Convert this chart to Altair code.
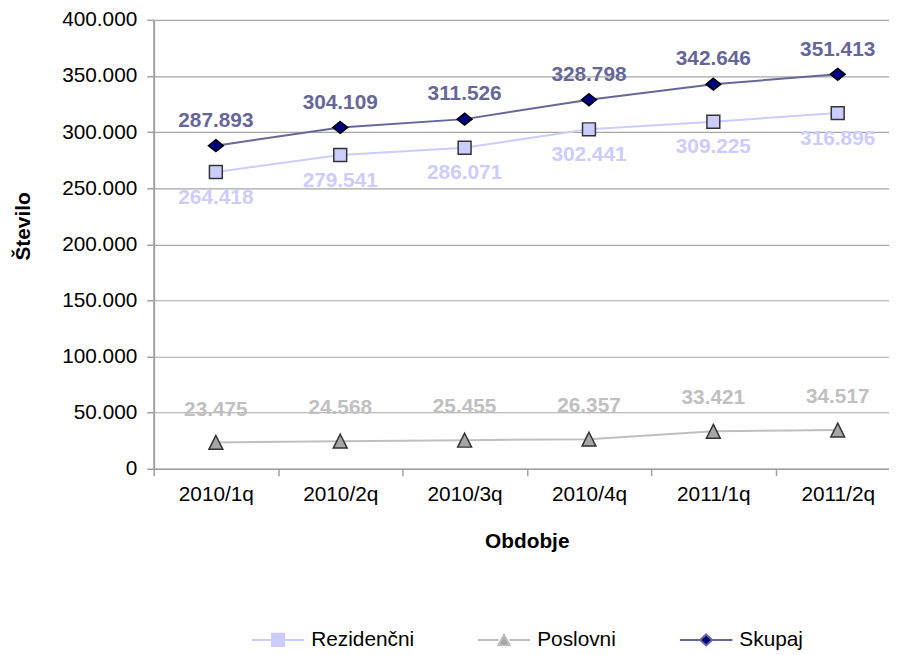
import altair as alt
import pandas as pd

periods = ["2010/1q", "2010/2q", "2010/3q", "2010/4q", "2011/1q", "2011/2q"]
rezidencni = [264418, 279541, 286071, 302441, 309225, 316896]
poslovni = [23475, 24568, 25455, 26357, 33421, 34517]
skupaj = [287893, 304109, 311526, 328798, 342646, 351413]
series_names = ["Rezidenčni", "Poslovni", "Skupaj"]
y_ticks = [0, 50000, 100000, 150000, 200000, 250000, 300000, 350000, 400000]

rows = []
for name, vals in zip(series_names, [rezidencni, poslovni, skupaj]):
    for p, v in zip(periods, vals):
        rows.append({"period": p, "value": v, "series": name})
df = pd.DataFrame(rows)

FONT = "Liberation Sans"
line_colors = ["#ccccff", "#c0c0c0", "#666699"]
marker_fills = ["#ccccff", "#a6a6a6", "#000080"]
marker_strokes = ["#333333", "#333333", "#000000"]
label_colors = ["#ccccff", "#c0c0c0", "#666699"]
label_dy = [26, -33, -25]
marker_shapes = ["square", "M0,-1L1,1L-1,1Z", "M0,-0.8L1,0L0,0.8L-1,0Z"]
marker_sizes = [169, 196, 225]
legend_shapes = [
    "M-1,0L-0.23,0M0.23,0L1,0M-0.23,-0.23L0.23,-0.23L0.23,0.23L-0.23,0.23Z",
    "M-1,0L-0.21,0M0.21,0L1,0M0,-0.2L0.22,0.2L-0.22,0.2Z",
    "M-1,0L-0.23,0M0.23,0L1,0M0,-0.21L0.23,0L0,0.21L-0.23,0Z",
]

x_enc = alt.X(
    "period:N",
    sort=periods,
    scale=alt.Scale(type="band", paddingInner=0, paddingOuter=0, range=[0, 753]),
    axis=alt.Axis(
        title="Obdobje", labelAngle=0, tickBand="extent", grid=False,
        domainColor="#a0a0a0", domainWidth=1.5, tickColor="#a0a0a0", tickWidth=1.5,
        tickSize=7, labelPadding=8, labelFontSize=21, labelFont=FONT, labelColor="#000000",
        titleFontSize=21, titleFont=FONT, titleFontWeight="bold", titleColor="#000000",
        titlePadding=26,
    ),
)
y_enc = alt.Y(
    "value:Q",
    scale=alt.Scale(domain=[0, 400000], nice=False),
    axis=alt.Axis(
        title="Število", values=y_ticks, format=",d", grid=True,
        gridColor="#a6a6a6", gridWidth=1.2,
        domainColor="#a0a0a0", domainWidth=2, tickColor="#a0a0a0", tickWidth=1.5,
        tickSize=7, labelPadding=10, labelFontSize=21, labelFont=FONT, labelColor="#000000",
        titleFontSize=21, titleFont=FONT, titleFontWeight="bold", titleColor="#000000",
        titlePadding=28, titleY=208,
    ),
)

base = alt.Chart(df)

layers = []
for i, name in enumerate(series_names):
    layers.append(
        base.transform_filter(alt.datum.series == name)
        .mark_line(strokeWidth=2, color=line_colors[i])
        .encode(x=x_enc, y=y_enc)
    )
for i, name in enumerate(series_names):
    layers.append(
        base.transform_filter(alt.datum.series == name)
        .mark_point(shape=marker_shapes[i], size=marker_sizes[i], filled=True, opacity=1,
                    fill=marker_fills[i], stroke=marker_strokes[i], strokeWidth=1.5)
        .encode(x=x_enc, y=y_enc)
    )
for i, name in enumerate(series_names):
    layers.append(
        base.transform_filter(alt.datum.series == name)
        .mark_text(dy=label_dy[i], fontWeight="bold", fontSize=21, font=FONT, color=label_colors[i])
        .encode(x=x_enc, y=y_enc, text=alt.Text("value:Q", format=",d"))
    )

leg = alt.Legend(
    orient="none", legendX=98, legendY=598, direction="horizontal", title=None,
    symbolSize=2809, symbolStrokeWidth=2, labelFontSize=21, labelFont=FONT,
    labelColor="#000000", labelOffset=6, columnPadding=60, padding=0,
)
legend_layer = base.transform_filter(alt.datum.value < 0).mark_point(filled=True, opacity=1, strokeWidth=2).encode(
    x=x_enc, y=y_enc,
    shape=alt.Shape("series:N", scale=alt.Scale(domain=series_names, range=legend_shapes), legend=leg),
    fill=alt.Fill("series:N", scale=alt.Scale(domain=series_names, range=marker_fills), legend=leg),
    stroke=alt.Stroke("series:N", scale=alt.Scale(domain=series_names, range=line_colors), legend=leg),
)
layers.append(legend_layer)

chart = (
    alt.layer(*layers)
    .properties(
        width=742, height=453,
        autosize=alt.AutoSizeParams(type="none"),
        padding={"left": 147, "top": 9, "right": 0, "bottom": 185},
    )
    .configure(
        font=FONT,
        locale={"number": {"decimal": ",", "thousands": ".", "grouping": [3], "currency": ["", " €"]}},
    )
    .configure_view(strokeWidth=0)
)

chart.save("out.html", embed_options={"renderer": "svg", "actions": False})
